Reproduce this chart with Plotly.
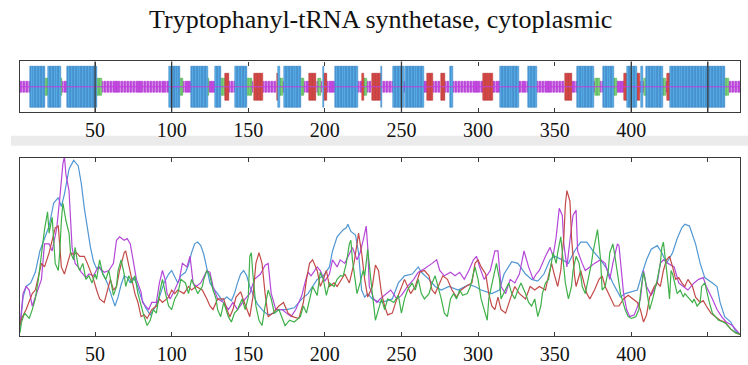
import plotly.graph_objects as go

title = "Tryptophanyl-tRNA synthetase, cytoplasmic"
seq_len = 471
tick_vals = [50, 100, 150, 200, 250, 300, 350, 400, 450]
tick_text = ["50", "100", "150", "200", "250", "300", "350", "400", ""]

# Secondary structure segments: (first residue, last residue, class)
# H = helix, E = strand, G = turn, C = coil
ss_segments = [
    (1, 7, "C"), (8, 17, "H"), (18, 19, "G"), (20, 27, "H"), (28, 28, "G"),
    (29, 31, "C"), (32, 51, "H"), (52, 54, "G"), (55, 98, "C"), (99, 105, "H"),
    (106, 107, "G"), (108, 112, "C"), (113, 123, "H"), (124, 124, "G"),
    (125, 128, "C"), (129, 132, "H"), (133, 134, "G"), (135, 137, "E"),
    (138, 141, "C"), (142, 149, "H"), (150, 152, "G"), (153, 153, "C"),
    (154, 159, "E"), (160, 168, "C"), (169, 169, "E"), (170, 170, "H"),
    (171, 172, "G"), (173, 173, "C"), (174, 184, "H"), (185, 186, "G"),
    (187, 189, "C"), (190, 194, "E"), (195, 195, "C"), (196, 197, "G"),
    (198, 198, "C"), (199, 199, "H"), (200, 201, "E"), (202, 206, "C"),
    (207, 221, "H"), (222, 224, "C"), (225, 225, "E"), (226, 227, "G"),
    (228, 230, "C"), (231, 236, "E"), (237, 237, "H"), (238, 244, "C"),
    (245, 251, "H"), (252, 252, "C"), (253, 264, "H"), (265, 266, "C"),
    (267, 270, "E"), (271, 275, "C"), (276, 278, "E"), (279, 281, "C"),
    (282, 283, "H"), (284, 303, "C"), (304, 309, "E"), (310, 314, "C"),
    (315, 326, "H"), (327, 332, "C"), (333, 338, "H"), (339, 356, "C"),
    (357, 361, "E"), (362, 364, "C"), (365, 375, "H"), (376, 376, "C"),
    (377, 379, "G"), (380, 381, "C"), (382, 388, "H"), (389, 390, "G"),
    (391, 395, "C"), (396, 397, "E"), (398, 403, "H"), (404, 405, "E"),
    (406, 406, "C"), (407, 407, "H"), (408, 408, "C"), (409, 409, "G"),
    (410, 420, "H"), (421, 422, "G"), (423, 423, "C"), (424, 425, "E"),
    (426, 461, "H"), (462, 463, "G"), (464, 471, "C"),
]

ss_half_height = {"H": 0.82, "E": 0.53, "G": 0.33, "C": 0.22}
ss_bar_width = {"H": 1.0, "E": 1.0, "G": 1.0, "C": 0.72}
ss_fill = {"H": "#5cb2ea", "E": "#de4a46", "G": "#86d882", "C": "#c848e6"}
ss_edge = {"H": "#2a76bc", "E": "#b03232", "G": "#44a844", "C": "#ac36cc"}

# Profile curves: (residue, value) pairs
blue_pts = [
    (1, 4), (3, 22), (5, 28), (8, 30), (11, 36), (14, 48), (17, 55), (20, 62),
    (23, 75), (26, 78), (28, 73), (30, 80), (33, 94), (36, 99), (39, 96),
    (41, 86), (43, 72), (45, 60), (47, 50), (49, 42), (51, 38), (53, 39),
    (55, 35), (58, 30), (61, 22), (63, 17), (65, 22), (67, 29), (69, 34),
    (71, 33), (73, 30), (75, 33), (77, 30), (80, 22), (83, 16), (86, 12),
    (89, 16), (92, 22), (95, 30), (98, 35), (100, 37), (102, 33), (104, 30),
    (106, 34), (109, 36), (111, 40), (113, 47), (115, 52), (117, 53), (119, 51),
    (121, 46), (123, 38), (125, 30), (127, 27), (130, 24), (133, 20), (136, 22),
    (139, 20), (141, 24), (143, 30), (145, 35), (147, 37), (149, 34), (151, 28),
    (153, 24), (156, 18), (160, 14), (163, 12), (167, 13), (170, 15), (175, 15),
    (180, 16), (185, 21), (189, 24), (195, 32), (199, 34), (203, 39), (205, 48),
    (208, 56), (210, 58), (212, 60), (214, 61), (215, 63), (217, 59), (220, 57),
    (222, 47), (223, 34), (224, 26), (226, 22), (228, 24), (231, 21), (236, 19),
    (241, 20), (244, 21), (248, 30), (252, 34), (257, 35), (261, 39), (263, 36),
    (268, 32), (272, 28), (276, 26), (281, 28), (287, 26), (294, 29), (298, 28),
    (302, 26), (309, 24), (314, 26), (317, 35), (322, 42), (326, 41), (331, 35),
    (335, 32), (339, 31), (343, 35), (347, 43), (350, 45), (355, 43), (359, 41),
    (363, 48), (367, 53), (371, 53), (375, 48), (380, 43), (384, 38), (388, 30),
    (393, 22), (396, 24), (400, 25), (404, 26), (407, 35), (410, 43), (413, 49),
    (417, 51), (420, 47), (423, 41), (427, 47), (430, 55), (433, 61), (435, 63),
    (438, 62), (442, 52), (445, 41), (448, 33), (453, 30), (456, 28), (458, 19),
    (461, 11), (465, 8), (468, 3), (471, 1),
]

magenta_pts = [
    (1, 6), (3, 24), (5, 28), (7, 26), (9, 17), (12, 24), (15, 32), (17, 52),
    (20, 52), (22, 48), (25, 61), (27, 78), (29, 97), (30, 101), (31, 91),
    (33, 82), (34, 65), (35, 50), (37, 41), (39, 39), (41, 36), (44, 33),
    (46, 35), (49, 34), (52, 39), (56, 36), (59, 37), (62, 41), (64, 54),
    (66, 56), (69, 54), (71, 55), (73, 52), (75, 41), (77, 32), (80, 25),
    (81, 19), (85, 15), (87, 19), (90, 19), (92, 30), (94, 37), (96, 31),
    (97, 24), (99, 21), (102, 26), (105, 32), (107, 41), (110, 39), (112, 45),
    (114, 30), (116, 28), (119, 30), (123, 37), (125, 36), (127, 28), (130, 21),
    (134, 19), (137, 15), (140, 19), (143, 15), (148, 21), (151, 24), (154, 32),
    (158, 35), (161, 40), (163, 41), (165, 24), (168, 15), (172, 15), (175, 13),
    (178, 11), (181, 15), (185, 23), (187, 30), (189, 36), (191, 34), (195, 39),
    (197, 37), (200, 31), (203, 35), (205, 43), (208, 39), (210, 43), (213, 41),
    (215, 45), (218, 50), (221, 43), (223, 47), (225, 54), (227, 62), (228, 50),
    (229, 28), (232, 21), (234, 19), (236, 21), (239, 23), (243, 26), (247, 21),
    (250, 23), (254, 28), (258, 32), (261, 36), (265, 38), (270, 41), (273, 43),
    (275, 37), (278, 34), (282, 36), (285, 34), (288, 36), (291, 32), (294, 37),
    (297, 43), (299, 45), (301, 39), (304, 32), (308, 37), (311, 48), (313, 48),
    (315, 28), (318, 24), (321, 32), (324, 30), (327, 35), (330, 48), (333, 39),
    (336, 32), (338, 35), (340, 37), (344, 45), (347, 50), (349, 45), (351, 56),
    (353, 72), (355, 68), (356, 52), (358, 39), (360, 54), (362, 68), (364, 71),
    (365, 48), (368, 41), (370, 37), (373, 39), (376, 41), (380, 43), (383, 41),
    (386, 32), (388, 41), (391, 52), (392, 51), (395, 24), (397, 15), (399, 11),
    (402, 12), (406, 21), (408, 37), (410, 28), (413, 23), (417, 30), (419, 41),
    (421, 43), (424, 41), (428, 39), (431, 30), (434, 28), (437, 26), (441, 30),
    (444, 32), (447, 33), (449, 28), (453, 21), (456, 15), (459, 11), (462, 8),
    (466, 6), (468, 4), (471, 1),
]

red_pts = [
    (1, 6), (2, 10), (5, 15), (9, 24), (11, 26), (13, 34), (15, 41), (17, 39),
    (20, 47), (22, 54), (24, 61), (26, 62), (27, 50), (28, 39), (30, 35),
    (32, 41), (34, 47), (36, 46), (38, 47), (40, 45), (43, 45), (45, 41),
    (47, 37), (49, 32), (51, 26), (53, 21), (56, 19), (58, 26), (60, 32),
    (62, 26), (64, 28), (66, 37), (69, 47), (70, 48), (72, 39), (74, 32),
    (76, 24), (78, 19), (80, 11), (82, 12), (84, 10), (87, 15), (90, 17),
    (92, 21), (94, 19), (98, 22), (100, 26), (102, 24), (104, 26), (108, 24),
    (111, 28), (113, 26), (116, 28), (120, 26), (123, 21), (125, 17), (127, 15),
    (130, 21), (134, 21), (136, 15), (138, 11), (140, 15), (142, 22), (145, 25),
    (147, 20), (149, 15), (151, 11), (153, 22), (155, 41), (157, 47), (159, 41),
    (161, 24), (163, 11), (166, 13), (170, 17), (173, 19), (176, 13), (179, 11),
    (183, 10), (186, 19), (188, 32), (190, 41), (192, 43), (195, 37), (197, 28),
    (199, 32), (201, 37), (203, 28), (206, 30), (208, 28), (211, 32), (213, 35),
    (216, 30), (219, 41), (221, 52), (222, 58), (224, 47), (226, 32), (228, 22),
    (231, 28), (233, 40), (235, 37), (237, 24), (239, 17), (241, 12), (244, 13),
    (247, 21), (250, 28), (252, 32), (256, 24), (259, 28), (262, 36), (265, 37),
    (268, 34), (270, 26), (272, 24), (275, 30), (277, 34), (280, 32), (283, 26),
    (286, 22), (289, 26), (292, 28), (296, 30), (298, 41), (300, 43), (302, 39),
    (305, 35), (307, 24), (309, 17), (311, 15), (313, 22), (315, 15), (318, 13),
    (321, 21), (324, 28), (327, 24), (331, 21), (334, 28), (337, 26), (340, 28),
    (344, 26), (346, 34), (348, 41), (350, 34), (352, 28), (354, 37), (356, 56),
    (357, 74), (358, 82), (360, 76), (361, 56), (363, 34), (364, 28), (367, 37),
    (369, 30), (371, 24), (373, 21), (376, 26), (379, 32), (381, 34), (383, 28),
    (385, 24), (387, 21), (389, 17), (392, 17), (395, 21), (398, 23), (401, 21),
    (404, 19), (406, 15), (408, 8), (410, 12), (412, 22), (415, 28), (417, 30),
    (419, 28), (421, 37), (423, 43), (425, 45), (427, 39), (429, 32), (431, 33),
    (433, 30), (435, 28), (437, 32), (440, 28), (442, 22), (445, 19), (447, 20),
    (449, 17), (452, 13), (455, 11), (458, 9), (461, 8), (465, 4), (468, 2),
    (471, 1),
]

green_pts = [
    (1, 2), (2, 8), (4, 13), (7, 10), (9, 15), (11, 21), (13, 32), (15, 47),
    (17, 60), (19, 70), (20, 58), (22, 67), (23, 54), (24, 41), (26, 37),
    (27, 48), (28, 65), (29, 75), (31, 65), (33, 58), (34, 47), (36, 43),
    (37, 50), (39, 39), (40, 37), (42, 41), (44, 32), (46, 34), (48, 30),
    (50, 35), (51, 32), (53, 43), (55, 35), (57, 32), (59, 37), (61, 28),
    (62, 23), (64, 28), (65, 37), (67, 43), (69, 35), (70, 28), (72, 34),
    (74, 30), (76, 34), (78, 24), (80, 17), (82, 11), (84, 6), (86, 9), (88, 15),
    (90, 13), (92, 24), (94, 32), (96, 24), (98, 17), (100, 15), (102, 21),
    (104, 24), (106, 32), (109, 30), (111, 24), (113, 32), (115, 28), (117, 24),
    (120, 28), (121, 32), (123, 37), (125, 34), (127, 26), (129, 21), (130, 15),
    (132, 11), (134, 19), (137, 11), (139, 8), (141, 13), (143, 15), (146, 21),
    (148, 15), (150, 22), (151, 45), (152, 47), (153, 35), (155, 17), (157, 9),
    (159, 6), (161, 17), (163, 26), (165, 21), (167, 13), (170, 15), (172, 11),
    (174, 6), (177, 9), (180, 8), (184, 11), (186, 17), (188, 13), (190, 21),
    (192, 28), (195, 23), (197, 36), (199, 32), (201, 23), (203, 30), (206, 28),
    (208, 32), (210, 34), (212, 34), (214, 41), (216, 52), (217, 54), (218, 43),
    (220, 32), (221, 24), (223, 30), (225, 37), (226, 34), (228, 49), (230, 32),
    (232, 15), (233, 9), (235, 15), (237, 21), (239, 15), (241, 21), (245, 19),
    (248, 23), (250, 13), (252, 21), (254, 26), (257, 30), (259, 26), (261, 32),
    (263, 24), (265, 21), (268, 24), (270, 30), (272, 34), (274, 28), (276, 21),
    (278, 13), (280, 11), (282, 21), (284, 24), (286, 21), (288, 26), (290, 23),
    (293, 24), (295, 28), (297, 35), (298, 39), (300, 32), (302, 21), (304, 15),
    (306, 9), (307, 21), (309, 30), (311, 37), (312, 41), (314, 32), (315, 21),
    (318, 26), (320, 30), (322, 24), (324, 21), (326, 26), (328, 30), (331, 24),
    (333, 19), (335, 17), (337, 21), (339, 11), (341, 17), (342, 24), (344, 30),
    (346, 32), (348, 41), (349, 47), (351, 41), (352, 47), (354, 56), (356, 41),
    (357, 30), (359, 21), (361, 28), (362, 37), (364, 45), (366, 41), (368, 28),
    (370, 24), (372, 32), (374, 41), (375, 47), (377, 56), (378, 60), (380, 43),
    (381, 26), (383, 28), (385, 37), (386, 47), (388, 52), (389, 47), (391, 35),
    (393, 24), (394, 21), (396, 15), (398, 11), (400, 10), (403, 11), (405, 15),
    (406, 24), (408, 36), (409, 32), (411, 21), (412, 15), (414, 21), (416, 28),
    (417, 32), (419, 41), (420, 50), (421, 53), (423, 39), (424, 30), (425, 21),
    (426, 37), (427, 35), (429, 28), (430, 24), (432, 26), (434, 22), (435, 24),
    (437, 22), (440, 19), (441, 21), (443, 17), (445, 19), (446, 28), (448, 30),
    (449, 26), (451, 19), (453, 13), (455, 11), (457, 9), (460, 8), (462, 7),
    (465, 4), (468, 2), (471, 1),
]

profile_series = [
    ("blue", blue_pts, "#5097d3"),
    ("magenta", magenta_pts, "#b447d8"),
    ("red", red_pts, "#c24a48"),
    ("green", green_pts, "#3fb04a"),
]

# ---- figure -------------------------------------------------------------
W, H = 748, 365
serif = "Liberation Serif, Times New Roman, serif"
frame = "#3a3a3a"

fig = go.Figure()

# per-residue class lookup
ss_by_res = {}
for s, e, c in ss_segments:
    for r in range(s, e + 1):
        ss_by_res[r] = c

# thin coil backbone through the track
fig.add_trace(go.Scatter(
    x=[1, seq_len], y=[0, 0], mode="lines",
    line=dict(color="#c23ee0", width=1), xaxis="x", yaxis="y",
    hoverinfo="skip", showlegend=False,
))

for cls in ["C", "G", "E", "H"]:
    res = [r for r in sorted(ss_by_res) if ss_by_res[r] == cls]
    h = ss_half_height[cls]
    fig.add_trace(go.Bar(
        x=res, y=[2 * h] * len(res), base=[-h] * len(res),
        width=ss_bar_width[cls],
        marker=dict(color=ss_fill[cls], line=dict(color=ss_edge[cls], width=0.5)),
        xaxis="x", yaxis="y", showlegend=False, name=cls,
    ))

for name, pts, col in profile_series:
    fig.add_trace(go.Scatter(
        x=[p[0] for p in pts], y=[p[1] for p in pts], mode="lines",
        line=dict(color=col, width=1.2), xaxis="x2", yaxis="y2",
        showlegend=False, name=name,
    ))

px_x = lambda p: p / W
px_y = lambda p: 1 - p / H

xdom = [px_x(20), px_x(740)]
axis_common = dict(
    range=[1, seq_len], showgrid=False, zeroline=False,
    showline=True, linecolor=frame, linewidth=1.3, mirror="ticks",
    ticks="inside", ticklen=4, tickcolor=frame, tickwidth=1.2,
    tickvals=tick_vals, ticktext=tick_text,
    tickfont=dict(family=serif, size=20, color="#111"),
)

fig.update_layout(
    width=W, height=H, margin=dict(l=0, r=0, t=0, b=0),
    paper_bgcolor="white", plot_bgcolor="white",
    barmode="overlay", bargap=0,
    xaxis=dict(domain=xdom, anchor="y", **axis_common),
    yaxis=dict(domain=[px_y(113), px_y(62)], range=[-1, 1], anchor="x",
               showgrid=False, zeroline=False, showticklabels=False, ticks="",
               showline=True, linecolor=frame, linewidth=1.3, mirror=True),
    xaxis2=dict(domain=xdom, anchor="y2", **axis_common),
    yaxis2=dict(domain=[px_y(339), px_y(159)], range=[0, 100.5], anchor="x2",
                showgrid=False, zeroline=False, showticklabels=False, ticks="",
                showline=True, linecolor=frame, linewidth=1.3, mirror=True),
    annotations=[dict(
        text=title, x=380 / W, y=px_y(20), xref="paper", yref="paper",
        xanchor="center", yanchor="middle", showarrow=False,
        font=dict(family=serif, size=26, color="#111"),
    )],
)

shapes = [dict(
    type="rect", xref="paper", yref="paper",
    x0=px_x(11), x1=1, y0=px_y(147), y1=px_y(137),
    fillcolor="#ebebeb", line=dict(width=0), layer="below",
)]
# full-height residue markers at ticks that fall inside a helix
for t in tick_vals:
    if ss_by_res.get(t) == "H":
        shapes.append(dict(
            type="line", xref="x", yref="y domain", x0=t, x1=t, y0=0, y1=1,
            line=dict(color=frame, width=1.3), layer="above",
        ))
fig.update_layout(shapes=shapes)

fig.write_html("out.html")
